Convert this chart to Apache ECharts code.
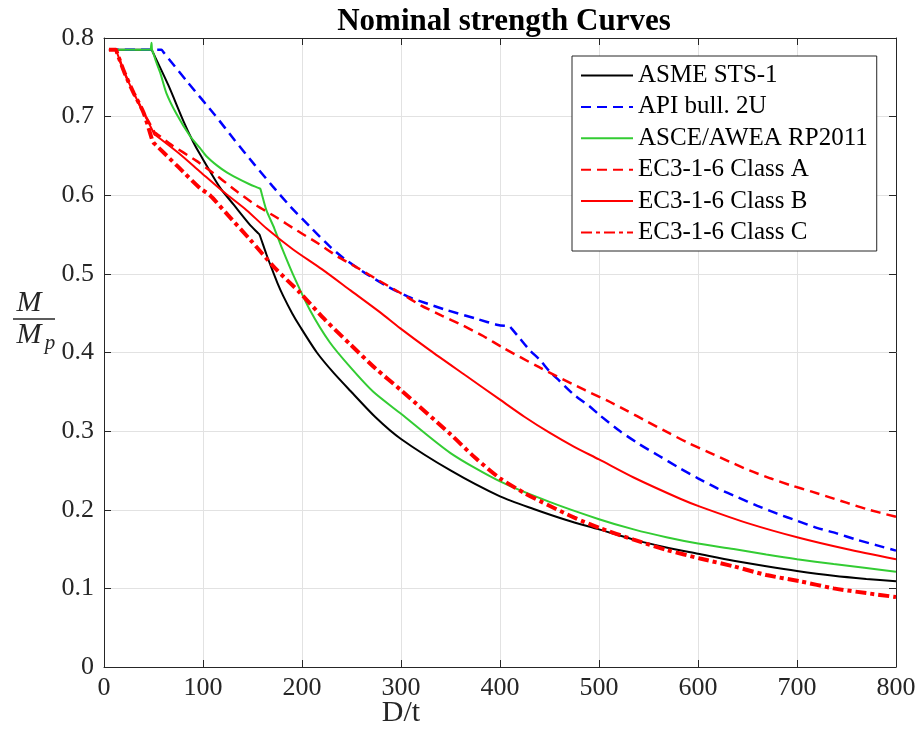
<!DOCTYPE html>
<html>
<head>
<meta charset="utf-8">
<script src="https://cdn.jsdelivr.net/npm/echarts@6/dist/echarts.min.js"></script>
<style>
html,body{margin:0;padding:0;background:#fff;}
#chart{width:919px;height:742px;}
</style>
</head>
<body>
<div id="chart"></div>
<script>
// ---- data ----
const xTicks = [0, 100, 200, 300, 400, 500, 600, 700, 800];
const yTicks = [0, 0.1, 0.2, 0.3, 0.4, 0.5, 0.6, 0.7, 0.8];
const seriesNames = ['ASME STS-1', 'API bull. 2U', 'ASCE/AWEA RP2011', 'EC3-1-6 Class A', 'EC3-1-6 Class B', 'EC3-1-6 Class C'];

const asmeX = [5, 46, 48, 49.5, 65, 80, 90, 97, 117, 131, 147, 155.5, 157, 158.5, 164, 170, 175, 181, 190, 198, 215, 232, 249, 274, 300, 350, 400, 434, 467, 500, 535, 568, 600, 636, 669, 700, 737, 770, 800];
const asmeY = [0.785, 0.785, 0.785, 0.7815, 0.740, 0.695, 0.668, 0.652, 0.610, 0.588, 0.563, 0.552, 0.550, 0.545, 0.525, 0.505, 0.489, 0.472, 0.450, 0.433, 0.400, 0.374, 0.351, 0.318, 0.290, 0.250, 0.217, 0.201, 0.187, 0.175, 0.162, 0.152, 0.144, 0.135, 0.128, 0.122, 0.116, 0.112, 0.109];

const apiX = [5, 56, 58, 60, 85, 112, 132, 152, 170, 188, 208, 228, 243, 265, 285, 307, 327, 346, 376, 398, 408, 410, 412, 420, 430, 440, 450, 460, 475, 490, 500, 520, 540, 560, 580, 600, 620, 640, 660, 680, 700, 720, 740, 760, 780, 800];
const apiY = [0.785, 0.785, 0.785, 0.782, 0.743, 0.702, 0.670, 0.639, 0.612, 0.586, 0.560, 0.535, 0.519, 0.500, 0.485, 0.471, 0.462, 0.454, 0.443, 0.435, 0.4335, 0.433, 0.430, 0.418, 0.403, 0.391, 0.376, 0.364, 0.346, 0.332, 0.321, 0.301, 0.284, 0.269, 0.254, 0.240, 0.227, 0.216, 0.205, 0.195, 0.186, 0.177, 0.170, 0.162, 0.155, 0.148];

const asceX = [5, 46, 47, 48, 48.5, 50, 52, 57, 63, 73, 87, 97, 104, 114, 124, 131, 147, 156.5, 158, 159.5, 164, 172, 180, 191, 208, 228, 249, 272, 300, 350, 400, 450, 500, 535, 568, 600, 636, 669, 700, 737, 770, 800];
const asceY = [0.785, 0.785, 0.785, 0.794, 0.785, 0.780, 0.772, 0.755, 0.730, 0.704, 0.675, 0.660, 0.649, 0.638, 0.629, 0.624, 0.614, 0.609, 0.608, 0.601, 0.581, 0.558, 0.532, 0.499, 0.454, 0.413, 0.381, 0.350, 0.322, 0.272, 0.236, 0.210, 0.188, 0.175, 0.165, 0.157, 0.150, 0.143, 0.137, 0.131, 0.126, 0.121];

const ecAX = [5, 10, 12, 13.5, 21, 30, 40, 49.5, 51, 52.5, 67, 93, 115, 134, 154, 174, 195, 216, 236, 257, 277, 299, 320, 341, 363, 383, 403, 440, 486, 508, 528, 549, 570, 590, 611, 632, 652, 673, 694, 715, 730, 750, 770, 800];
const ecAY = [0.785, 0.785, 0.785, 0.780, 0.755, 0.730, 0.705, 0.684, 0.680, 0.679, 0.665, 0.644, 0.624, 0.605, 0.587, 0.572, 0.555, 0.539, 0.522, 0.507, 0.492, 0.476, 0.460, 0.447, 0.434, 0.421, 0.406, 0.381, 0.352, 0.339, 0.326, 0.312, 0.298, 0.285, 0.273, 0.261, 0.250, 0.240, 0.231, 0.223, 0.217, 0.209, 0.201, 0.191];

const ecBX = [5, 10, 12, 13.5, 21, 30, 40, 49.5, 51, 52.5, 75, 97, 120, 144, 164, 191, 220, 249, 279, 299, 329, 365, 400, 425, 450, 475, 500, 535, 582, 602, 650, 703, 750, 800];
const ecBY = [0.785, 0.785, 0.785, 0.780, 0.755, 0.730, 0.705, 0.681, 0.677, 0.676, 0.654, 0.630, 0.605, 0.581, 0.558, 0.531, 0.506, 0.479, 0.451, 0.431, 0.403, 0.371, 0.340, 0.318, 0.298, 0.280, 0.264, 0.241, 0.214, 0.204, 0.183, 0.164, 0.150, 0.137];

const ecCX = [5, 10, 12, 13.5, 21, 30, 40, 48.5, 50, 51.5, 75, 97, 107, 125, 148, 173, 198, 223, 249, 274, 300, 350, 375, 400, 425, 450, 475, 500, 535, 568, 602, 636, 669, 703, 737, 770, 800];
const ecCY = [0.785, 0.785, 0.785, 0.780, 0.755, 0.730, 0.705, 0.671, 0.667, 0.665, 0.636, 0.609, 0.600, 0.575, 0.543, 0.507, 0.476, 0.442, 0.410, 0.380, 0.352, 0.296, 0.266, 0.240, 0.221, 0.205, 0.190, 0.177, 0.162, 0.149, 0.138, 0.128, 0.117, 0.109, 0.100, 0.094, 0.089];

// ---- chart ----
const FONT = "'Liberation Serif', 'Times New Roman', serif";
const AX = '#262626';
function zip(xs, ys) { return xs.map((x, i) => [x, ys[i]]); }

const styles = [
  { color: '#000000', width: 2, type: 'solid' },
  { color: '#0000ff', width: 2.5, type: [10, 6] },
  { color: '#33cc33', width: 2, type: 'solid' },
  { color: '#ff0000', width: 2.5, type: [10, 6] },
  { color: '#ff0000', width: 2, type: 'solid' },
  { color: '#ff0000', width: 4, type: [11, 4, 4, 4] }
];
const datasets = [zip(asmeX, asmeY), zip(apiX, apiY), zip(asceX, asceY), zip(ecAX, ecAY), zip(ecBX, ecBY), zip(ecCX, ecCY)];

const chart = echarts.init(document.getElementById('chart'), null, { renderer: 'canvas' });

const baseX = {
  type: 'value', min: xTicks[0], max: xTicks[xTicks.length - 1], interval: 100,
  axisLine: { show: true, onZero: false, lineStyle: { color: AX, width: 1 } },
  axisTick: { show: true, inside: true, length: 7, lineStyle: { color: AX } },
  splitLine: { show: false }
};
const baseY = {
  type: 'value', min: yTicks[0], max: yTicks[yTicks.length - 1], interval: 0.1,
  axisLine: { show: true, onZero: false, lineStyle: { color: AX, width: 1 } },
  axisTick: { show: true, inside: true, length: 7, lineStyle: { color: AX } },
  splitLine: { show: false }
};

chart.setOption({
  animation: false,
  backgroundColor: '#ffffff',
  title: {
    text: 'Nominal strength Curves',
    left: 499, top: 1, textAlign: 'center',
    textStyle: { fontFamily: FONT, fontWeight: 'bold', fontSize: 31, color: '#000' }
  },
  grid: { left: 104, top: 38, right: 23, bottom: 75, containLabel: false },
  xAxis: [
    Object.assign({}, baseX, {
      position: 'bottom',
      axisLabel: { show: true, fontFamily: FONT, fontSize: 26, color: AX, margin: 8 },
      splitLine: { show: true, lineStyle: { color: '#e2e2e2', width: 1 } }
    }),
    Object.assign({}, baseX, { position: 'top', axisLabel: { show: false } })
  ],
  yAxis: [
    Object.assign({}, baseY, {
      position: 'left',
      axisLabel: {
        show: true, fontFamily: FONT, fontSize: 26, color: AX, margin: 10,
        formatter: v => (Math.abs(v) < 1e-9 ? '0' : v.toFixed(1))
      },
      splitLine: { show: true, lineStyle: { color: '#e2e2e2', width: 1 } }
    }),
    Object.assign({}, baseY, { position: 'right', axisLabel: { show: false } })
  ],
  legend: {
    orient: 'vertical',
    left: 572, top: 56,
    backgroundColor: '#ffffff',
    borderColor: AX, borderWidth: 1,
    padding: [7, 9, 6, 8],
    itemGap: 6.4,
    itemWidth: 52, itemHeight: 14,
    itemStyle: { opacity: 0 },
    textStyle: { fontFamily: FONT, fontSize: 25, color: '#000' },
    data: seriesNames
  },
  graphic: [
    { type: 'text', x: 401, y: 713, style: { text: 'D/t', font: "30px 'Liberation Serif', serif", fill: AX, textAlign: 'center', textVerticalAlign: 'middle' } },
    { type: 'text', x: 29, y: 303, style: { text: 'M', font: "italic 30px 'Liberation Serif', serif", fill: AX, textAlign: 'center', textVerticalAlign: 'middle' } },
    { type: 'line', shape: { x1: 13, y1: 319, x2: 55, y2: 319 }, style: { stroke: AX, lineWidth: 1.5 } },
    { type: 'text', x: 29, y: 335, style: { text: 'M', font: "italic 30px 'Liberation Serif', serif", fill: AX, textAlign: 'center', textVerticalAlign: 'middle' } },
    { type: 'text', x: 50, y: 343, style: { text: 'p', font: "italic 21px 'Liberation Serif', serif", fill: AX, textAlign: 'center', textVerticalAlign: 'middle' } }
  ],
  series: seriesNames.map((name, i) => ({
    name: name,
    type: 'line',
    xAxisIndex: 0, yAxisIndex: 0,
    data: datasets[i],
    symbol: 'none',
    showSymbol: false,
    smooth: 0.25,
    clip: true,
    lineStyle: { color: styles[i].color, width: styles[i].width, type: styles[i].type },
    itemStyle: { color: styles[i].color, opacity: 0 }
  }))
});
</script>
</body>
</html>
